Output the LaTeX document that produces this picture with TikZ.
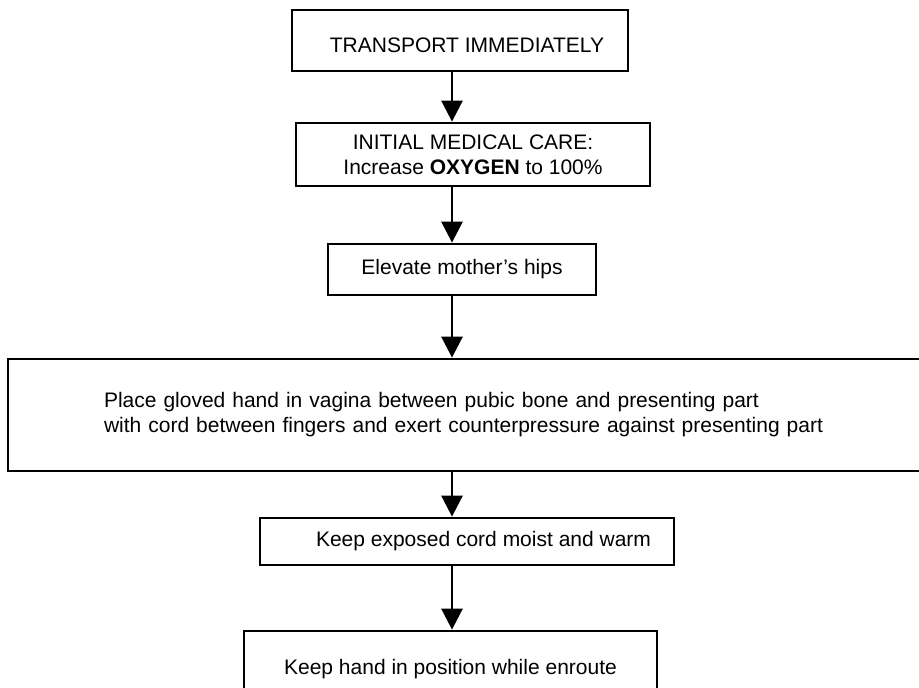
\documentclass[tikz,border=0pt]{standalone}
\usepackage{fontspec}
\setmainfont{Liberation Sans}
\usetikzlibrary{arrows.meta}
\begin{document}
\begin{tikzpicture}[x=1pt,y=1pt,
  stepbox/.style={draw, line width=2.8pt, inner sep=0pt, align=center,
    font=\fontsize{21}{25}\selectfont},
  flow/.style={line width=2.8pt, -{Triangle[width=21pt,length=21pt]}}]
\clip (0,0) rectangle (919,-688);
\coordinate (spine) at (452,0);

\node[stepbox, minimum width=336pt, minimum height=61pt, text height=25pt] (transport) at (460,-40.5)
  {\hspace*{14pt}TRANSPORT IMMEDIATELY};
\node[stepbox, minimum width=354pt, minimum height=63pt] (care) at (473,-154.5)
  {INITIAL MEDICAL CARE:\\Increase \textbf{OXYGEN} to 100\%};
\node[stepbox, minimum width=268pt, minimum height=51pt] (hips) at (462,-269.5)
  {Elevate mother’s hips};
\node[stepbox, align=left, text width=730pt, inner xsep=96pt, minimum height=112pt] (hand) at (469,-415)
  {Place gloved hand in vagina between pubic bone and presenting part\\
   with cord between fingers and exert counterpressure against presenting part};
\node[stepbox, minimum width=414pt, minimum height=47pt] (cord) at (467,-541.5)
  {\hspace*{33pt}Keep exposed cord moist and warm};
\node[stepbox, minimum width=413pt, minimum height=76pt] (enroute) at (450.5,-669)
  {Keep hand in position while enroute};

\draw[flow] (transport.south -| spine) -- (care.north -| spine);
\draw[flow] (care.south -| spine) -- (hips.north -| spine);
\draw[flow] (hips.south -| spine) -- (hand.north -| spine);
\draw[flow] (hand.south -| spine) -- (cord.north -| spine);
\draw[flow] (cord.south -| spine) -- (enroute.north -| spine);
\end{tikzpicture}
\end{document}
